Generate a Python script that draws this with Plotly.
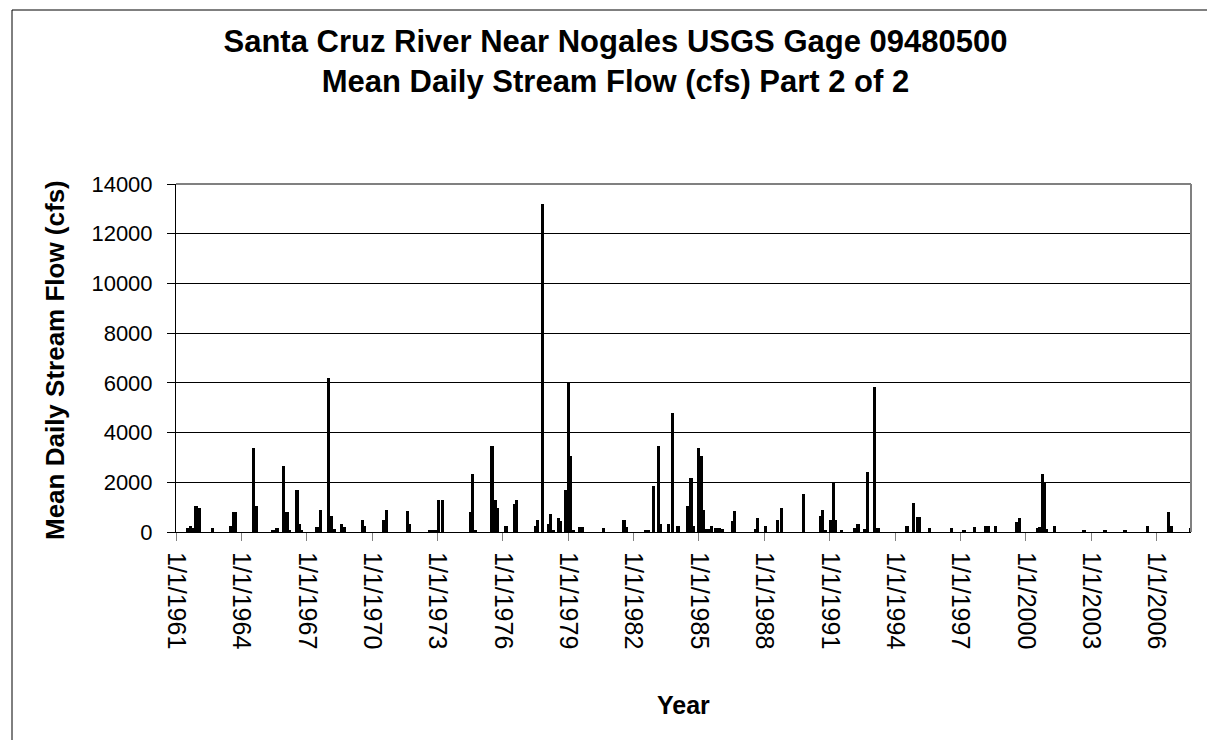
import plotly.graph_objects as go
import pandas as pd

# ---- data (peak mean daily flows) ----
flow_dates = [
    "1961-07-20", "1961-09-01", "1961-10-15", "1961-12-01", "1962-02-01", "1962-09-10",
    "1963-07-01", "1963-08-20", "1963-10-01", "1964-07-25", "1964-09-15",
    "1965-06-15", "1965-08-20", "1965-12-10", "1966-02-05", "1966-03-20", "1966-07-20",
    "1966-09-01", "1966-10-10", "1967-06-20", "1967-08-15", "1967-12-28", "1968-02-10",
    "1968-04-01", "1968-08-01", "1968-09-15", "1969-07-25", "1969-08-25", "1970-07-20",
    "1970-08-25", "1971-08-15", "1971-09-25", "1972-08-20", "1972-10-15", "1972-12-01",
    "1973-01-20", "1973-03-20", "1974-07-15", "1974-08-15", "1974-10-01", "1975-07-05",
    "1975-08-25", "1975-09-25", "1976-02-25", "1976-07-10", "1976-08-20", "1977-07-10",
    "1977-08-10", "1977-11-01", "1978-02-01", "1978-03-15", "1978-05-01", "1978-07-20",
    "1978-08-20", "1978-11-20", "1979-01-05", "1979-02-05", "1979-03-20", "1979-07-15",
    "1979-09-01", "1980-08-10", "1981-07-25", "1981-09-05", "1982-07-20", "1982-09-01",
    "1982-11-25", "1983-02-20", "1983-03-25", "1983-08-05", "1983-10-10", "1984-01-15",
    "1984-06-25", "1984-08-20", "1984-09-25", "1984-12-20", "1985-02-05", "1985-03-10",
    "1985-04-15", "1985-06-01", "1985-07-25", "1985-10-01", "1985-12-01", "1986-02-01",
    "1986-07-15", "1986-08-20", "1987-08-01", "1987-09-10", "1988-01-25", "1988-08-10",
    "1988-10-20", "1989-10-20", "1990-07-25", "1990-09-01", "1990-10-15", "1991-01-20",
    "1991-03-01", "1991-04-10", "1991-07-15", "1992-03-01", "1992-04-20", "1992-08-10",
    "1992-09-20", "1993-01-25", "1993-03-20", "1994-07-20", "1994-11-10", "1995-01-10",
    "1995-02-20", "1995-08-01", "1996-08-01", "1997-03-01", "1997-08-20", "1998-02-20",
    "1998-04-15", "1998-08-10", "1999-08-01", "1999-09-15", "2000-07-20", "2000-08-25",
    "2000-10-01", "2000-11-10", "2000-12-15", "2001-04-20", "2002-09-01", "2003-08-20",
    "2004-07-20", "2005-08-01", "2006-07-20", "2006-09-10", "2007-07-20",
]
flow_cfs = [
    150, 230, 180, 1050, 970, 170,
    230, 810, 810, 3390, 1050,
    100, 160, 2650, 810, 90, 1690,
    330, 100, 200, 890, 6200, 650,
    120, 330, 200, 490, 230, 490,
    890, 830, 330, 90, 90, 90,
    1290, 1290, 810, 2330, 100, 3450,
    1290, 970, 250, 1130, 1290, 230,
    490, 13200, 330, 730, 100, 570,
    430, 1670, 6050, 3050, 90, 190,
    190, 160, 490, 200, 90, 90,
    1850, 3450, 330, 330, 4800, 250,
    1050, 2170, 250, 3390, 3050, 890,
    120, 120, 250, 170, 170, 120,
    430, 830, 120, 570, 250, 490,
    970, 1530, 630, 890, 100, 490,
    2030, 490, 90, 160, 330, 130,
    2430, 5850, 160, 250, 1160, 590,
    590, 170, 170, 100, 190, 250,
    250, 250, 410, 560, 160, 200,
    2330, 1990, 120, 250, 100, 100,
    100, 250, 810, 250, 160,
]
tick_dates = ["1961-01-01", "1964-01-01", "1967-01-01", "1970-01-01", "1973-01-01",
              "1976-01-01", "1979-01-01", "1982-01-01", "1985-01-01", "1988-01-01",
              "1991-01-01", "1994-01-01", "1997-01-01", "2000-01-01", "2003-01-01",
              "2006-01-01"]
tick_labels = ["1/1/1961", "1/1/1964", "1/1/1967", "1/1/1970", "1/1/1973",
               "1/1/1976", "1/1/1979", "1/1/1982", "1/1/1985", "1/1/1988",
               "1/1/1991", "1/1/1994", "1/1/1997", "1/1/2000", "1/1/2003",
               "1/1/2006"]
y_ticks = [0, 2000, 4000, 6000, 8000, 10000, 12000, 14000]
y_tick_labels = ["0", "2000", "4000", "6000", "8000", "10000", "12000", "14000"]

title_text = ("<b>Santa Cruz River Near Nogales USGS Gage 09480500</b><br>"
              "<b>Mean Daily Stream Flow (cfs) Part 2 of 2</b>")
x_title = "<b>Year</b>"
y_title = "<b>Mean Daily Stream Flow (cfs)</b>"

FONT = "Liberation Sans, Arial, sans-serif"

fig = go.Figure()
fig.add_trace(go.Bar(
    x=pd.to_datetime(flow_dates), y=flow_cfs,
    width=55 * 86400000,
    marker=dict(color="black", line=dict(width=0)),
    showlegend=False,
))

W, H = 1215, 740
L, R, T, B = 168, 1183, 176, 524
pw, ph = R - L, B - T
def px(xp):
    return (xp - L) / pw
def py(yp):
    return (B - yp) / ph

fig.update_layout(
    width=W, height=H,
    margin=dict(l=L, r=W - R, t=T, b=H - B),
    paper_bgcolor="white", plot_bgcolor="white",
    font=dict(family=FONT, color="black"),
    title=dict(text=title_text, x=0.5, xanchor="center", y=1 - 44 / H, yanchor="middle",
               font=dict(size=31, family=FONT, color="black")),
    bargap=0,
)
fig.update_xaxes(
    type="date", range=["1961-01-01", "2007-08-01"],
    tickmode="array", tickvals=tick_dates, ticktext=tick_labels,
    tickangle=90, tickfont=dict(size=25),
    ticks="outside", ticklen=8, tickcolor="#808080",
    ticklabelstandoff=6,
    showline=True, linecolor="black", linewidth=1,
    showgrid=False, zeroline=False,
)
fig.update_yaxes(
    range=[0, 14000], tickmode="array", tickvals=y_ticks, ticktext=y_tick_labels,
    tickfont=dict(size=22),
    ticks="outside", ticklen=8, tickcolor="black",
    ticklabelstandoff=10,
    showline=True, linecolor="black", linewidth=1,
    showgrid=True, gridcolor="black", gridwidth=1,
    zeroline=False,
)
# axis titles
fig.add_annotation(text=x_title, xref="paper", yref="paper", x=px(675), y=py(697),
                   xanchor="center", yanchor="middle", showarrow=False,
                   font=dict(size=25, family=FONT, color="black"))
fig.add_annotation(text=y_title, xref="paper", yref="paper", x=px(47), y=py(352),
                   xanchor="center", yanchor="middle", showarrow=False, textangle=-90,
                   font=dict(size=26, family=FONT, color="black"))
# plot-area top and right border (gray)
fig.add_shape(type="line", xref="paper", yref="paper", x0=0, x1=1, y0=1, y1=1,
              line=dict(color="#808080", width=2))
fig.add_shape(type="line", xref="paper", yref="paper", x0=1, x1=1, y0=0, y1=1,
              line=dict(color="#808080", width=2))
# chart-area border
fig.add_shape(type="rect", xref="paper", yref="paper",
              x0=px(4), x1=px(1212), y0=py(737), y1=py(2),
              line=dict(color="black", width=1), fillcolor="rgba(0,0,0,0)")

fig.write_html("out.html")
